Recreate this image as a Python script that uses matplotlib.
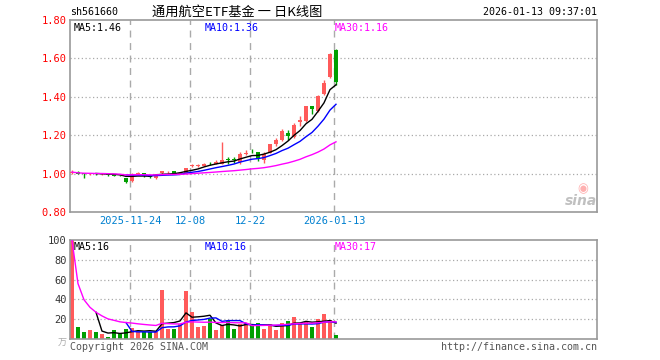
import matplotlib
matplotlib.use("Agg")
import matplotlib.pyplot as plt
import numpy as np
import pandas as pd

W, H = 660, 360
mono = 'DejaVu Sans Mono'

# daily K data, 2025-11-10 .. 2026-01-13 (45 trading days)
opens = [1.004, 1.010, 1.000, 0.998, 1.000, 0.997, 1.000, 0.994, 0.990, 0.975,
         0.961, 1.000, 1.001, 0.985, 0.977, 1.004, 1.006, 1.013, 1.000, 1.003,
         1.040, 1.041, 1.042, 1.052, 1.052, 1.052, 1.076, 1.075, 1.060, 1.104,
         1.120, 1.111, 1.069, 1.107, 1.153, 1.177, 1.209, 1.191, 1.268, 1.273,
         1.351, 1.327, 1.414, 1.504, 1.643]
highs = [1.018, 1.012, 1.002, 1.004, 1.002, 1.004, 1.002, 0.996, 0.993, 0.976,
         1.003, 1.008, 1.002, 0.987, 0.997, 1.016, 1.013, 1.015, 1.008, 1.031,
         1.052, 1.050, 1.055, 1.062, 1.070, 1.165, 1.087, 1.085, 1.110, 1.121,
         1.126, 1.114, 1.113, 1.155, 1.183, 1.230, 1.226, 1.261, 1.299, 1.353,
         1.353, 1.408, 1.487, 1.630, 1.647]
lows = [0.998, 0.998, 0.979, 0.994, 0.994, 0.994, 0.990, 0.985, 0.985, 0.952,
        0.958, 0.998, 0.980, 0.975, 0.972, 1.000, 1.002, 0.998, 0.998, 1.000,
        1.035, 1.035, 1.040, 1.043, 1.050, 1.050, 1.052, 1.055, 1.052, 1.098,
        1.108, 1.066, 1.055, 1.105, 1.142, 1.170, 1.174, 1.188, 1.247, 1.270,
        1.309, 1.321, 1.408, 1.500, 1.462]
closes = [1.008, 1.000, 0.998, 1.000, 0.997, 1.000, 0.994, 0.990, 0.986, 0.958,
          1.000, 1.003, 0.990, 0.980, 0.995, 1.014, 1.009, 1.000, 1.005, 1.029,
          1.043, 1.044, 1.052, 1.049, 1.063, 1.073, 1.071, 1.070, 1.104, 1.108,
          1.116, 1.076, 1.104, 1.153, 1.174, 1.222, 1.195, 1.252, 1.278, 1.351,
          1.337, 1.403, 1.473, 1.622, 1.478]
# volume, 万
volumes = [100, 12, 7, 9, 7, 5, 2, 9, 5, 10,
           11, 7, 7, 7, 7, 49, 10, 10, 15, 48,
           27, 12, 13, 20, 9, 14, 18, 10, 15, 16,
           14, 16, 10, 15, 9, 16, 18, 22, 16, 17,
           12, 20, 25, 19, 4]

date_idx = [10, 20, 30, 44]
date_labels = ['2025-11-24', '12-08', '12-22', '2026-01-13']
price_ticks = [0.80, 1.00, 1.20, 1.40, 1.60, 1.80]
vol_ticks = [20, 40, 60, 80, 100]

red = '#ff5a5a'
green = '#009f00'
grid_c = '#aaaaaa'

n = len(closes)
x = np.arange(n)
o = np.array(opens)
c = np.array(closes)
up = c >= o
cols = [red if u else green for u in up]

cs = pd.Series(closes)
vs = pd.Series(volumes)
ma = {5: 'black', 10: 'blue', 30: '#ff00ff'}


def rect(l, t, r, b):
    return [l / W, 1 - b / H, (r - l) / W, (b - t) / H]


def ftext(px, py, s, **kw):
    fig.text(px / W, 1 - py / H, s, **kw)


fig = plt.figure(figsize=(6.6, 3.6), dpi=100)
ax1 = fig.add_axes(rect(70, 20, 597, 212))
ax2 = fig.add_axes(rect(70, 240, 597, 339))

for ax in (ax1, ax2):
    ax.set_xlim(-0.33, 87.5)
    for s in ax.spines.values():
        s.set_color('#999999')
        s.set_linewidth(1.2)
    for d in date_idx:
        ax.axvline(d - 0.33, color=grid_c, lw=1, ls=(0, (5, 4)), zorder=0)

# price panel
ax1.set_ylim(0.80, 1.80)
for t in price_ticks[1:-1]:
    ax1.axhline(t, color=grid_c, lw=0.9, ls=(0, (1, 2)), zorder=0)
ax1.vlines(x, lows, highs, colors=cols, lw=1, zorder=2)
body = np.maximum(np.abs(c - o), 0.003)
ax1.bar(x, body, bottom=np.minimum(o, c), width=0.8, color=cols, zorder=3)
for k, col in ma.items():
    mp = 1 if k == 30 else k
    ax1.plot(x, cs.rolling(k, min_periods=mp).mean(), color=col, lw=1, zorder=4)

ax1.set_yticks(price_ticks)
ax1.set_yticklabels(['%.2f' % t for t in price_ticks], family=mono)
ax1.set_xticks([d - 0.33 for d in date_idx])
ax1.set_xticklabels(date_labels, family=mono)
ax1.tick_params(axis='y', length=0, pad=2.5, labelsize=7.5, labelcolor='red')
ax1.tick_params(axis='x', length=0, pad=3, labelsize=7.5, labelcolor='#0080d0')

# volume panel
ax2.set_ylim(0, 100)
for t in vol_ticks[:-1]:
    ax2.axhline(t, color=grid_c, lw=0.9, ls=(0, (1, 2)), zorder=0)
ax2.bar(x, volumes, width=0.8, color=cols, zorder=2)
for k, col in ma.items():
    mp = 1 if k == 30 else k
    ax2.plot(x, vs.rolling(k, min_periods=mp).mean(), color=col, lw=1, zorder=4)
ax2.set_yticks(vol_ticks)
ax2.set_yticklabels([str(t) for t in vol_ticks], family=mono)
ax2.set_xticks([])
ax2.tick_params(axis='y', length=0, pad=2.5, labelsize=7.5, labelcolor='#333333')

# header
ftext(70, 12, 'sh561660', family=mono, fontsize=7.2, va='center', ha='left')
ftext(237, 12, '通用航空ETF基金 一 日K线图', family=['Noto Sans CJK SC', 'DejaVu Sans'],
      fontsize=9.5, va='center', ha='center')
ftext(597, 12, '2026-01-13 09:37:01', family=mono, fontsize=7.2, va='center', ha='right')

# MA legends
ftext(74, 28, 'MA5:1.46', family=mono, fontsize=7.2, va='center', color='black')
ftext(205, 28, 'MA10:1.36', family=mono, fontsize=7.2, va='center', color='blue')
ftext(335, 28, 'MA30:1.16', family=mono, fontsize=7.2, va='center', color='#ff00ff')
ftext(74, 247, 'MA5:16', family=mono, fontsize=7.2, va='center', color='black')
ftext(205, 247, 'MA10:16', family=mono, fontsize=7.2, va='center', color='blue')
ftext(335, 247, 'MA30:17', family=mono, fontsize=7.2, va='center', color='#ff00ff')

# footer and watermark
ftext(62, 343, '万', family=['Noto Sans CJK SC'], fontsize=6.5, va='center', ha='center', color='#aaaaaa')
ftext(70, 347, 'Copyright 2026 SINA.COM', family=mono, fontsize=7.2, va='center', color='#555555')
ftext(597, 347, 'http://finance.sina.com.cn', family=mono, fontsize=7.2, va='center', ha='right', color='#555555')
ftext(581, 201, 'sina', fontsize=10, fontweight='bold', style='italic', va='center', ha='center',
      color='#c0c0c0')
ftext(583, 189, '◉', fontsize=9, va='center', ha='center', color='#ffb0b0',
      family=['DejaVu Sans'])

fig.savefig('out.png', dpi=100)
